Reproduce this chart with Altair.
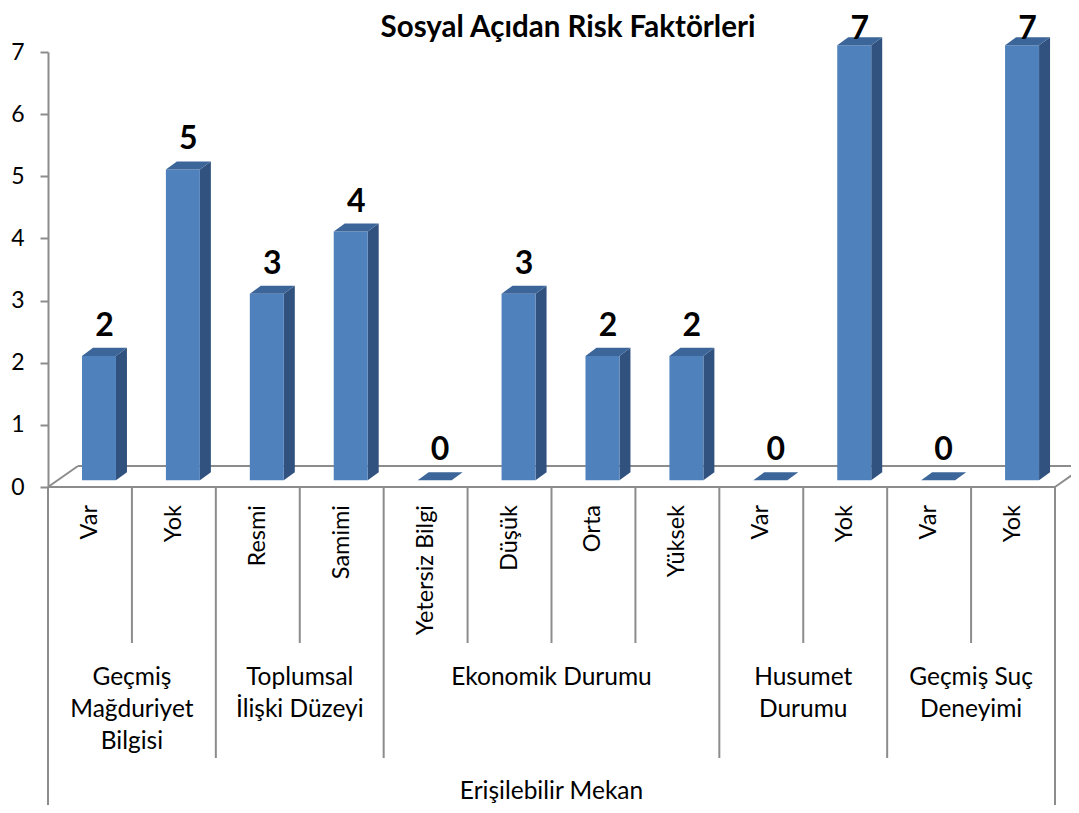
import altair as alt
import pandas as pd

# ---- data ----
categories = ["Var", "Yok", "Resmi", "Samimi", "Yetersiz Bilgi", "Düşük",
              "Orta", "Yüksek", "Var", "Yok", "Var", "Yok"]
values = [2, 5, 3, 4, 0, 3, 2, 2, 0, 7, 0, 7]
groups = ["Geçmiş\nMağduriyet\nBilgisi", "Toplumsal\nİlişki Düzeyi",
          "Ekonomik Durumu", "Husumet\nDurumu", "Geçmiş Suç\nDeneyimi"]
group_sizes = [2, 2, 4, 2, 2]
top_level = "Erişilebilir Mekan"
title_text = "Sosyal Açıdan Risk Faktörleri"
y_ticks = [0, 1, 2, 3, 4, 5, 6, 7]

# ---- styling / pseudo-3D geometry (in scale units) ----
FONT = "Lato"
FRONT_L, FRONT_R = 0.405, 0.81
LIFT = 0.11
DX, DY = 0.131, 0.129
FLOOR_DX, FLOOR_DY = 0.357, 0.338
LABEL_CAP = 6.89  # labels kept inside the plot area, as the original does
C_FRONT, C_SIDE, C_TOP = "#4F81BD", "#31527F", "#3C6699"
GRID = "#8C8C8C"
N = len(categories)

W, H = 1007, 435

bars = pd.DataFrame({
    "id": list(range(N)),
    "cat": categories,
    "v": values,
})
bars["x0"] = bars["id"] + FRONT_L
bars["x1"] = bars["id"] + FRONT_R
bars["xm"] = (bars["x0"] + bars["x1"]) / 2 + DX / 2
bars["base"] = LIFT
bars["top"] = bars["v"] + LIFT
bars["label"] = bars["v"].astype(str)
bars["xc"] = bars["id"] + 0.5

side_rows, top_rows = [], []
for _, r in bars.iterrows():
    side_rows.append({"id": r.id, "x": r.x1, "y": r.base, "y2": r.top})
    side_rows.append({"id": r.id, "x": r.x1 + DX, "y": r.base + DY, "y2": r.top + DY})
    top_rows.append({"id": r.id, "y": r.top, "xa": r.x0, "xb": r.x1})
    top_rows.append({"id": r.id, "y": r.top + DY, "xa": r.x0 + DX, "xb": r.x1 + DX})
side = pd.DataFrame(side_rows)
topf = pd.DataFrame(top_rows)

floor = pd.DataFrame([
    {"x": 0, "y": 0, "x2": N, "y2": 0},
    {"x": 0, "y": 0, "x2": FLOOR_DX, "y2": FLOOR_DY},
    {"x": FLOOR_DX, "y": FLOOR_DY, "x2": N + FLOOR_DX, "y2": FLOOR_DY},
    {"x": N, "y": 0, "x2": N + FLOOR_DX, "y2": FLOOR_DY},
])

# separators
bounds, centers = [0], []
for s in group_sizes:
    centers.append(bounds[-1] + s / 2)
    bounds.append(bounds[-1] + s)
group_b = bounds[1:-1]
outer_b = [0, N]
inner_b = [k for k in range(1, N) if k not in group_b]

xs = alt.Scale(domain=[0, N], nice=False, zero=False)
ys = alt.Scale(domain=[0, 7], nice=False, zero=True)
yax = alt.Axis(values=y_ticks, title=None, grid=False)


def X(f):
    return alt.X(f, type="quantitative", scale=xs, axis=None)


def Y(f):
    return alt.Y(f, type="quantitative", scale=ys, axis=yax)


floor_layer = alt.Chart(floor).mark_rule(color=GRID, strokeWidth=2).encode(
    x=X("x"), x2="x2", y=Y("y"), y2="y2")

front = alt.Chart(bars).mark_rect(color=C_FRONT).encode(
    x=X("x0"), x2="x1", y=Y("base"), y2="top")

side_layer = alt.Chart(side).mark_area(color=C_SIDE, opacity=1).encode(
    x=X("x"), y=Y("y"), y2="y2", detail="id:N")

top_layer = alt.Chart(topf).mark_area(color=C_TOP, opacity=1, orient="horizontal").encode(
    y=Y("y"), x=X("xa"), x2="xb", detail="id:N")

labels = alt.Chart(bars).transform_calculate(
    ly=f"min(datum.top, {LABEL_CAP})"
).mark_text(
    font=FONT, fontSize=32, fontWeight="bold", color="black",
    baseline="middle", dy=-30).encode(
    x=X("xm"), y=Y("ly:Q"), text="label:N")


def sep_layer(pos, length):
    df = pd.DataFrame({"b": pos})
    return alt.Chart(df).mark_rule(color=GRID, strokeWidth=2).encode(
        x=X("b"), y=alt.value(H), y2=alt.value(length))


seps = sep_layer(inner_b, 591) + sep_layer(group_b, 706) + sep_layer(outer_b, 760)

cat_labels = alt.Chart(bars).mark_text(
    font=FONT, fontSize=23.5, color="black", angle=270,
    align="right", baseline="middle").encode(
    x=X("xc"), y=alt.value(453), text="cat:N")

grp_df = pd.DataFrame({"g": groups, "c": centers})
grp_labels = alt.Chart(grp_df).mark_text(
    font=FONT, fontSize=24.5, color="black", align="center",
    baseline="alphabetic", lineBreak="\n", lineHeight=32).encode(
    x=X("c"), y=alt.value(633), text="g:N")

top_df = pd.DataFrame({"t": [top_level], "c": [N / 2]})
top_label = alt.Chart(top_df).mark_text(
    font=FONT, fontSize=24.5, color="black", align="center",
    baseline="alphabetic").encode(
    x=X("c"), y=alt.value(747), text="t:N")

title_df = pd.DataFrame({"t": [title_text]})
title_layer = alt.Chart(title_df).mark_text(
    font=FONT, fontSize=29.5, fontWeight="bold", color="black",
    align="center", baseline="alphabetic").encode(
    x=alt.value(520), y=alt.value(-15), text="t:N")

chart = alt.layer(
    floor_layer, seps, side_layer, front, top_layer, labels,
    cat_labels, grp_labels, top_label, title_layer
).properties(
    width=W, height=H,
    autosize=alt.AutoSizeParams(type="none"),
    padding={"left": 40, "top": 44, "right": 16, "bottom": 318},
).configure_view(stroke=None).configure_axisY(
    domainColor=GRID, domainWidth=2, tickColor=GRID, tickWidth=2,
    tickSize=8, labelFont=FONT, labelFontSize=23, labelColor="black",
    labelPadding=16,
)

chart.save("out.html", embed_options={"renderer": "svg", "actions": False})
